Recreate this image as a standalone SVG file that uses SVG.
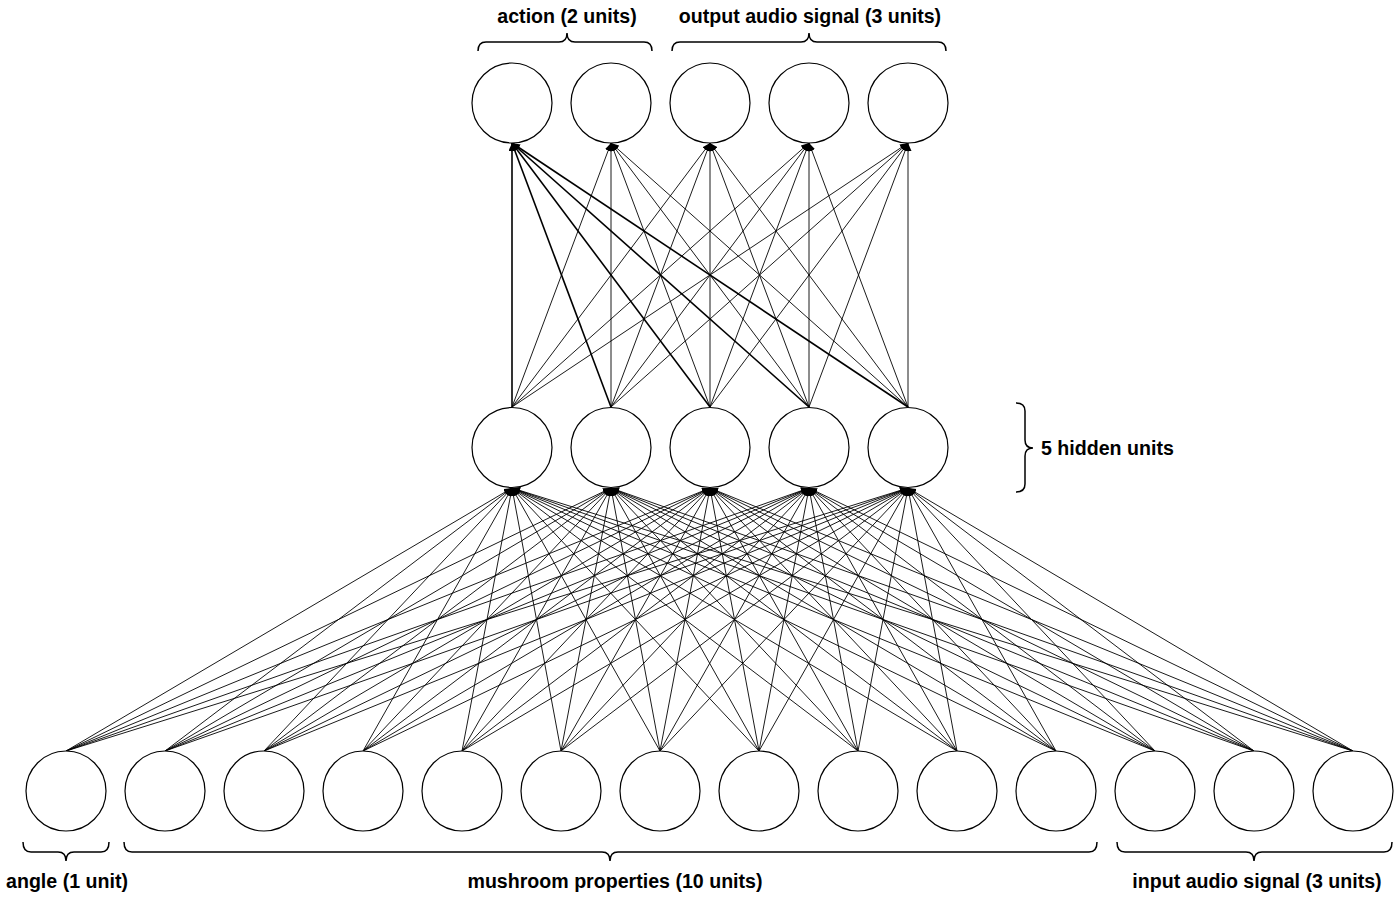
<svg xmlns="http://www.w3.org/2000/svg" width="1394" height="898" viewBox="0 0 1394 898">
<style>
.n{fill:#fff;stroke:#000;stroke-width:1.2}
.c line{stroke:#000;stroke-width:0.9;marker-end:url(#ah)}
.c line.t{stroke-width:1.6}
.b{fill:none;stroke:#000;stroke-width:1.5}
.l{font-family:"Liberation Sans",Arial,sans-serif;font-weight:bold;font-size:19.6px;fill:#000}
</style>
<defs>
<marker id="ah" markerUnits="userSpaceOnUse" markerWidth="10" markerHeight="8" refX="8" refY="3.5" orient="auto">
<path d="M0,0 L8,3.5 L0,7 z" fill="#000"/>
</marker>
</defs>
<rect width="1394" height="898" fill="#fff"/>
<g id="connectors" class="c">
<line x1="66" y1="751" x2="512" y2="488"/><line x1="66" y1="751" x2="611" y2="488"/><line x1="66" y1="751" x2="710" y2="488"/><line x1="66" y1="751" x2="809" y2="488"/><line x1="66" y1="751" x2="908" y2="488"/>
<line x1="165" y1="751" x2="512" y2="488"/><line x1="165" y1="751" x2="611" y2="488"/><line x1="165" y1="751" x2="710" y2="488"/><line x1="165" y1="751" x2="809" y2="488"/><line x1="165" y1="751" x2="908" y2="488"/>
<line x1="264" y1="751" x2="512" y2="488"/><line x1="264" y1="751" x2="611" y2="488"/><line x1="264" y1="751" x2="710" y2="488"/><line x1="264" y1="751" x2="809" y2="488"/><line x1="264" y1="751" x2="908" y2="488"/>
<line x1="363" y1="751" x2="512" y2="488"/><line x1="363" y1="751" x2="611" y2="488"/><line x1="363" y1="751" x2="710" y2="488"/><line x1="363" y1="751" x2="809" y2="488"/><line x1="363" y1="751" x2="908" y2="488"/>
<line x1="462" y1="751" x2="512" y2="488"/><line x1="462" y1="751" x2="611" y2="488"/><line x1="462" y1="751" x2="710" y2="488"/><line x1="462" y1="751" x2="809" y2="488"/><line x1="462" y1="751" x2="908" y2="488"/>
<line x1="561" y1="751" x2="512" y2="488"/><line x1="561" y1="751" x2="611" y2="488"/><line x1="561" y1="751" x2="710" y2="488"/><line x1="561" y1="751" x2="809" y2="488"/><line x1="561" y1="751" x2="908" y2="488"/>
<line x1="660" y1="751" x2="512" y2="488"/><line x1="660" y1="751" x2="611" y2="488"/><line x1="660" y1="751" x2="710" y2="488"/><line x1="660" y1="751" x2="809" y2="488"/><line x1="660" y1="751" x2="908" y2="488"/>
<line x1="759" y1="751" x2="512" y2="488"/><line x1="759" y1="751" x2="611" y2="488"/><line x1="759" y1="751" x2="710" y2="488"/><line x1="759" y1="751" x2="809" y2="488"/><line x1="759" y1="751" x2="908" y2="488"/>
<line x1="858" y1="751" x2="512" y2="488"/><line x1="858" y1="751" x2="611" y2="488"/><line x1="858" y1="751" x2="710" y2="488"/><line x1="858" y1="751" x2="809" y2="488"/><line x1="858" y1="751" x2="908" y2="488"/>
<line x1="957" y1="751" x2="512" y2="488"/><line x1="957" y1="751" x2="611" y2="488"/><line x1="957" y1="751" x2="710" y2="488"/><line x1="957" y1="751" x2="809" y2="488"/><line x1="957" y1="751" x2="908" y2="488"/>
<line x1="1056" y1="751" x2="512" y2="488"/><line x1="1056" y1="751" x2="611" y2="488"/><line x1="1056" y1="751" x2="710" y2="488"/><line x1="1056" y1="751" x2="809" y2="488"/><line x1="1056" y1="751" x2="908" y2="488"/>
<line x1="1155" y1="751" x2="512" y2="488"/><line x1="1155" y1="751" x2="611" y2="488"/><line x1="1155" y1="751" x2="710" y2="488"/><line x1="1155" y1="751" x2="809" y2="488"/><line x1="1155" y1="751" x2="908" y2="488"/>
<line x1="1254" y1="751" x2="512" y2="488"/><line x1="1254" y1="751" x2="611" y2="488"/><line x1="1254" y1="751" x2="710" y2="488"/><line x1="1254" y1="751" x2="809" y2="488"/><line x1="1254" y1="751" x2="908" y2="488"/>
<line x1="1353" y1="751" x2="512" y2="488"/><line x1="1353" y1="751" x2="611" y2="488"/><line x1="1353" y1="751" x2="710" y2="488"/><line x1="1353" y1="751" x2="809" y2="488"/><line x1="1353" y1="751" x2="908" y2="488"/>
<line class="t" x1="512" y1="407" x2="512" y2="143"/><line x1="512" y1="407" x2="611" y2="143"/><line x1="512" y1="407" x2="710" y2="143"/><line x1="512" y1="407" x2="809" y2="143"/><line x1="512" y1="407" x2="908" y2="143"/>
<line class="t" x1="611" y1="407" x2="512" y2="143"/><line x1="611" y1="407" x2="611" y2="143"/><line x1="611" y1="407" x2="710" y2="143"/><line x1="611" y1="407" x2="809" y2="143"/><line x1="611" y1="407" x2="908" y2="143"/>
<line class="t" x1="710" y1="407" x2="512" y2="143"/><line x1="710" y1="407" x2="611" y2="143"/><line x1="710" y1="407" x2="710" y2="143"/><line x1="710" y1="407" x2="809" y2="143"/><line x1="710" y1="407" x2="908" y2="143"/>
<line class="t" x1="809" y1="407" x2="512" y2="143"/><line x1="809" y1="407" x2="611" y2="143"/><line x1="809" y1="407" x2="710" y2="143"/><line x1="809" y1="407" x2="809" y2="143"/><line x1="809" y1="407" x2="908" y2="143"/>
<line class="t" x1="908" y1="407" x2="512" y2="143"/><line x1="908" y1="407" x2="611" y2="143"/><line x1="908" y1="407" x2="710" y2="143"/><line x1="908" y1="407" x2="809" y2="143"/><line x1="908" y1="407" x2="908" y2="143"/>
</g>
<g id="out1"><circle class="n" cx="512" cy="103" r="40"/></g>
<g id="out2"><circle class="n" cx="611" cy="103" r="40"/></g>
<g id="out3"><circle class="n" cx="710" cy="103" r="40"/></g>
<g id="out4"><circle class="n" cx="809" cy="103" r="40"/></g>
<g id="out5"><circle class="n" cx="908" cy="103" r="40"/></g>
<g id="hid1"><circle class="n" cx="512" cy="447.5" r="40"/></g>
<g id="hid2"><circle class="n" cx="611" cy="447.5" r="40"/></g>
<g id="hid3"><circle class="n" cx="710" cy="447.5" r="40"/></g>
<g id="hid4"><circle class="n" cx="809" cy="447.5" r="40"/></g>
<g id="hid5"><circle class="n" cx="908" cy="447.5" r="40"/></g>
<g id="in1"><circle class="n" cx="66" cy="791" r="40"/></g>
<g id="in2"><circle class="n" cx="165" cy="791" r="40"/></g>
<g id="in3"><circle class="n" cx="264" cy="791" r="40"/></g>
<g id="in4"><circle class="n" cx="363" cy="791" r="40"/></g>
<g id="in5"><circle class="n" cx="462" cy="791" r="40"/></g>
<g id="in6"><circle class="n" cx="561" cy="791" r="40"/></g>
<g id="in7"><circle class="n" cx="660" cy="791" r="40"/></g>
<g id="in8"><circle class="n" cx="759" cy="791" r="40"/></g>
<g id="in9"><circle class="n" cx="858" cy="791" r="40"/></g>
<g id="in10"><circle class="n" cx="957" cy="791" r="40"/></g>
<g id="in11"><circle class="n" cx="1056" cy="791" r="40"/></g>
<g id="in12"><circle class="n" cx="1155" cy="791" r="40"/></g>
<g id="in13"><circle class="n" cx="1254" cy="791" r="40"/></g>
<g id="in14"><circle class="n" cx="1353" cy="791" r="40"/></g>
<g id="label-action">
<path class="b" d="M478,51 Q478,42 486,42 L559,42 Q567,42 567,33 Q567,42 575,42 L644,42 Q652,42 652,51"/>
<text class="l" x="567" y="23" text-anchor="middle">action (2 units)</text>
</g>
<g id="label-output">
<path class="b" d="M672,51 Q672,42 680,42 L801,42 Q809,42 809,33 Q809,42 817,42 L938,42 Q946,42 946,51"/>
<text class="l" x="810" y="23" text-anchor="middle">output audio signal (3 units)</text>
</g>
<g id="label-hidden">
<path class="b" d="M1016,403 Q1025,403 1025,411 L1025,440 Q1025,448 1033,448 Q1025,448 1025,456 L1025,484 Q1025,492 1016,492"/>
<text class="l" x="1041" y="455">5 hidden units</text>
</g>
<g id="label-angle">
<path class="b" d="M23,842 Q23,852 31,852 L58,852 Q66,852 66,861 Q66,852 74,852 L101,852 Q109,852 109,842"/>
<text class="l" x="67" y="888" text-anchor="middle">angle (1 unit)</text>
</g>
<g id="label-mushroom">
<path class="b" d="M124,842 Q124,852 132,852 L602,852 Q610,852 610,861 Q610,852 618,852 L1089,852 Q1097,852 1097,842"/>
<text class="l" x="615" y="888" text-anchor="middle">mushroom properties (10 units)</text>
</g>
<g id="label-audio-in">
<path class="b" d="M1117,842 Q1117,852 1125,852 L1246,852 Q1254,852 1254,861 Q1254,852 1262,852 L1384,852 Q1392,852 1392,842"/>
<text class="l" x="1257" y="888" text-anchor="middle">input audio signal (3 units)</text>
</g>
</svg>
